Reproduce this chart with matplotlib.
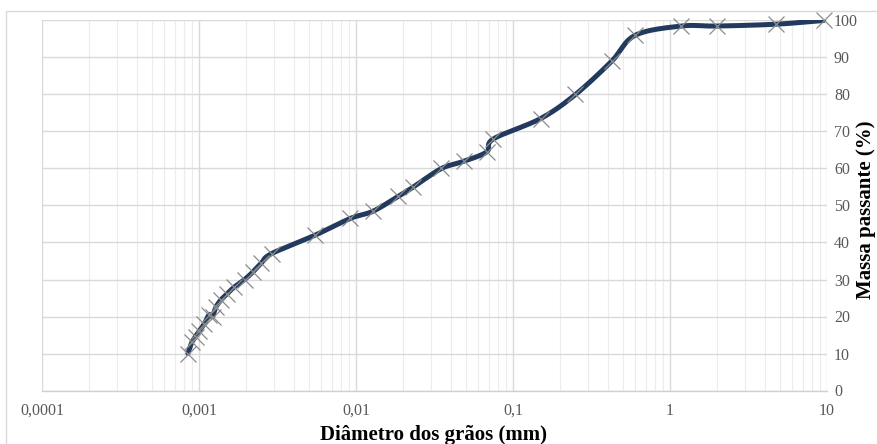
import numpy as np
import matplotlib
matplotlib.use("Agg")
import matplotlib.pyplot as plt
from matplotlib.ticker import LogLocator, NullFormatter
from matplotlib.patches import Rectangle

# granulometric curve: sieves + sedimentation
diametro = [9.5, 4.75, 2.0, 1.18, 0.6, 0.425, 0.25, 0.15, 0.075,
            0.068, 0.049, 0.035, 0.0232, 0.0186, 0.0129, 0.0092, 0.0055,
            0.0029, 0.0025, 0.0022, 0.00195, 0.00168, 0.0015, 0.00138,
            0.00128, 0.00122, 0.00116, 0.00108, 0.001, 0.00095, 0.0009, 0.00085]
passante = [100.0, 99.0, 98.5, 98.5, 96.0, 89.0, 80.0, 73.5, 68.0,
            64.5, 62.0, 60.0, 55.0, 52.5, 48.5, 46.5, 42.0,
            37.0, 34.5, 32.0, 30.0, 28.0, 26.0, 24.5,
            22.5, 20.0, 20.5, 18.0, 16.0, 14.5, 13.0, 10.0]

x_ticks = [0.0001, 0.001, 0.01, 0.1, 1, 10]
x_labels = ["0,0001", "0,001", "0,01", "0,1", "1", "10"]
y_ticks = list(range(0, 101, 10))

LINE = "#213a5e"
GRID = "#d9d9d9"
TXT = "#595959"


def smooth(x, y, n=24):
    """Catmull-Rom curve through the points, in log10(x) space."""
    lx = np.log10(x)
    y = np.asarray(y, dtype=float)
    px = np.concatenate([[2 * lx[0] - lx[1]], lx, [2 * lx[-1] - lx[-2]]])
    py = np.concatenate([[2 * y[0] - y[1]], y, [2 * y[-1] - y[-2]]])
    out_x, out_y = [], []
    t = np.linspace(0, 1, n, endpoint=False)
    for i in range(1, len(px) - 2):
        p0, p1, p2, p3 = (np.array([px[k], py[k]]) for k in (i - 1, i, i + 1, i + 2))
        c1 = p1 + (p2 - p0) / 6
        c2 = p2 - (p3 - p1) / 6
        seg = ((1 - t) ** 3)[:, None] * p1 + (3 * (1 - t) ** 2 * t)[:, None] * c1 \
            + (3 * (1 - t) * t ** 2)[:, None] * c2 + (t ** 3)[:, None] * p2
        out_x.extend(seg[:, 0])
        out_y.extend(seg[:, 1])
    out_x.append(lx[-1])
    out_y.append(y[-1])
    return 10 ** np.array(out_x), np.array(out_y)


fig = plt.figure(figsize=(8.77, 4.44), dpi=100)
fig.patches.append(Rectangle((6 / 877, -0.5), 2, 0.5 + 1 - 11 / 444,
                             transform=fig.transFigure, fill=False,
                             edgecolor=GRID, linewidth=1.0))

ax = fig.add_axes([42 / 877, 1 - 390.5 / 444, (827 - 42) / 877, (390.5 - 20.5) / 444])
ax.set_xscale("log")
ax.set_xlim(0.0001, 10)
ax.set_ylim(0, 100)

ax.set_xticks(x_ticks)
ax.set_xticklabels(x_labels)
ax.xaxis.set_minor_locator(LogLocator(base=10, subs=np.arange(2, 10)))
ax.xaxis.set_minor_formatter(NullFormatter())
ax.set_yticks(y_ticks)
ax.yaxis.tick_right()

ax.tick_params(axis="both", which="both", length=0, colors=TXT, labelsize=11.5)
ax.tick_params(axis="x", pad=9)
ax.tick_params(axis="y", pad=5)
for lab in ax.get_xticklabels() + ax.get_yticklabels():
    lab.set_fontfamily("Liberation Serif")

ax.grid(True, which="major", color=GRID, linewidth=1.0)
ax.grid(True, which="minor", axis="x", color="#ececec", linewidth=0.8)
ax.set_axisbelow(True)
for side in ("top", "right", "left"):
    ax.spines[side].set_visible(False)
ax.spines["bottom"].set_color("#cfcfcf")
ax.spines["bottom"].set_linewidth(1.0)

sx, sy = smooth(diametro, passante)
ax.plot(sx, sy, color=LINE, linewidth=3.6, solid_capstyle="round", zorder=3)
ax.plot(diametro, passante, linestyle="none", marker="x", markersize=11,
        markeredgewidth=0.9, color="#8c8c8c", zorder=4, clip_on=False)

fig.text(433 / 877, 1 - 440 / 444, "Diâmetro dos grãos (mm)", ha="center", va="baseline",
         fontsize=15, fontweight="bold", family="Liberation Serif", color="black")
fig.text(876 / 877, 1 - 210 / 444, "Massa passante (%)", ha="right", va="center",
         rotation=90, fontsize=15, fontweight="bold", family="Liberation Serif", color="black")

fig.savefig("out.png", dpi=100)
